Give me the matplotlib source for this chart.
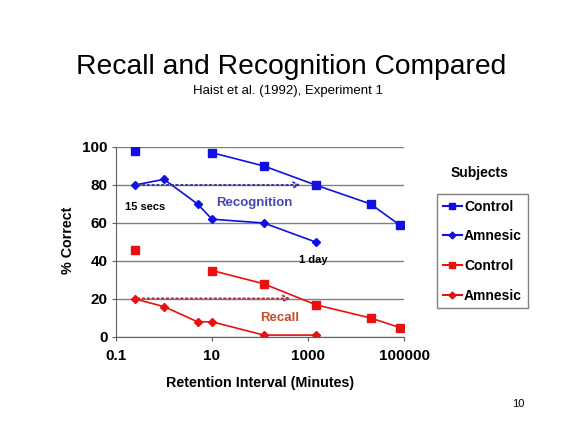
import matplotlib
matplotlib.use("Agg")
import matplotlib.pyplot as plt
from matplotlib.lines import Line2D

plt.rcParams['font.family'] = ['Liberation Sans', 'DejaVu Sans']

# retention intervals in minutes (15 s, 1 min, 5 min, 10 min, 2 h, 1 day, 2 wk, 8 wk)
ctrl_x = [0.25, 10, 120, 1440, 20160, 80640]
amn_x = [0.25, 1, 5, 10, 120, 1440]

recog_ctrl = [98, 97, 90, 80, 70, 59]
recog_amn = [80, 83, 70, 62, 60, 50]
recall_ctrl = [46, 35, 28, 17, 10, 5]
recall_amn = [20, 16, 8, 8, 1, 1]

xticks = [0.1, 10, 1000, 100000]
xtick_labels = ["0.1", "10", "1000", "100000"]
yticks = [0, 20, 40, 60, 80, 100]

blue = '#1010E0'
red = '#E81010'

fig = plt.figure(figsize=(5.76, 4.32), dpi=100)
ax = fig.add_axes([116/576, 95/432, 288/576, 190/432])

# first control point is drawn on its own (no connecting line)
ax.plot(ctrl_x[:1], recog_ctrl[:1], 's', color=blue, ms=6)
ax.plot(ctrl_x[1:], recog_ctrl[1:], '-s', color=blue, ms=6, lw=1.2)
ax.plot(amn_x, recog_amn, '-D', color=blue, ms=4.5, lw=1.2)
ax.plot(ctrl_x[:1], recall_ctrl[:1], 's', color=red, ms=6)
ax.plot(ctrl_x[1:], recall_ctrl[1:], '-s', color=red, ms=6, lw=1.2)
ax.plot(amn_x, recall_amn, '-D', color=red, ms=4.5, lw=1.2)

ax.annotate('', xy=(800, 80), xytext=(0.25, 80),
            arrowprops=dict(arrowstyle='->', linestyle=':', color='#3030A0', lw=1.3))
ax.annotate('', xy=(490, 20.3), xytext=(0.25, 20.3),
            arrowprops=dict(arrowstyle='->', linestyle=':', color='#A03040', lw=1.3))

ax.text(0.4, 68.5, '15 secs', fontsize=8, fontweight='bold', ha='center', va='center')
ax.text(75, 70.5, 'Recognition', fontsize=9.5, fontweight='bold', color='#4545B5',
        ha='center', va='center')
ax.text(1300, 40.5, '1 day', fontsize=8, fontweight='bold', ha='center', va='center')
ax.text(262, 10, 'Recall', fontsize=9.5, fontweight='bold', color='#C0502A',
        ha='center', va='center')

ax.set_xscale('log')
ax.set_xlim(0.1, 100000)
ax.set_ylim(0, 100)
ax.set_xticks(xticks)
ax.set_xticklabels(xtick_labels)
ax.minorticks_off()
ax.set_yticks(yticks)
ax.yaxis.grid(True, color='#808080', lw=1)
ax.set_axisbelow(True)
for s in ['top', 'right']:
    ax.spines[s].set_visible(False)
ax.spines['left'].set_color('#606060')
ax.spines['bottom'].set_color('#606060')
ax.tick_params(length=3, color='#606060', labelsize=11)
ax.tick_params(axis='x', pad=6)
ax.tick_params(axis='y', pad=3)
for lab in ax.get_xticklabels() + ax.get_yticklabels():
    lab.set_fontweight('bold')
ax.set_xlabel('Retention Interval (Minutes)', fontsize=10.3, fontweight='bold')
ax.set_ylabel('% Correct', fontsize=10.3, fontweight='bold')
ax.xaxis.set_label_coords(0.5, -0.242)
ax.yaxis.set_label_coords(-0.165, 0.51)
ax.xaxis.label.set_va('center')
ax.yaxis.label.set_va('center')

handles = [
    Line2D([], [], color=blue, marker='s', ms=5),
    Line2D([], [], color=blue, marker='D', ms=3.5),
    Line2D([], [], color=red, marker='s', ms=5),
    Line2D([], [], color=red, marker='D', ms=3.5),
]
labels = ['Control', 'Amnesic', 'Control', 'Amnesic']
leg = fig.legend(handles, labels, loc='upper left', bbox_to_anchor=(437/576, 1 - 194/432),
                 frameon=True, fancybox=False, edgecolor='#808080', framealpha=1,
                 prop={'weight': 'bold', 'size': 10}, labelspacing=1.13,
                 handlelength=1.4, handletextpad=0.15, borderpad=0.4, borderaxespad=0)
leg.get_frame().set_linewidth(1)

fig.text(480/576, 1 - 173/432, 'Subjects', fontsize=10, fontweight='bold', ha='center', va='center')
fig.text(291/576, 1 - 67/432, 'Recall and Recognition Compared', fontsize=20.3, ha='center', va='center')
fig.text(288/576, 1 - 91/432, 'Haist et al. (1992), Experiment 1', fontsize=9.5, ha='center', va='center')
fig.text(518/576, 1 - 404/432, '10', fontsize=8, ha='center', va='center')

fig.savefig('out.png', dpi=100)
